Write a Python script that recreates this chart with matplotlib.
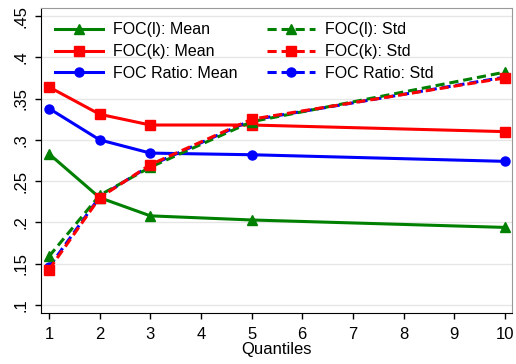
import matplotlib.pyplot as plt

plt.rcParams['font.family'] = ['Liberation Sans', 'DejaVu Sans']

quantiles = [1, 2, 3, 5, 10]
focl_mean = [0.283, 0.230, 0.208, 0.203, 0.194]
fock_mean = [0.364, 0.331, 0.318, 0.318, 0.310]
ratio_mean = [0.338, 0.300, 0.284, 0.282, 0.274]
focl_std = [0.159, 0.233, 0.267, 0.322, 0.382]
fock_std = [0.143, 0.230, 0.270, 0.325, 0.375]
ratio_std = [0.146, 0.231, 0.269, 0.324, 0.376]

yticks = [0.1, 0.15, 0.2, 0.25, 0.3, 0.35, 0.4, 0.45]
ylabels = ['.1', '.15', '.2', '.25', '.3', '.35', '.4', '.45']
xticks = [1, 2, 3, 4, 5, 6, 7, 8, 9, 10]

green, red, blue = '#008000', '#ff0000', '#0000ff'

fig = plt.figure(figsize=(5.16, 3.64), dpi=100)
ax = fig.add_axes([0.079, 0.14, 0.913, 0.838])

lw, ms = 2.2, 6.5
dash = (0, (3, 1.6))
ax.plot(quantiles, focl_mean, color=green, lw=lw, marker='^', ms=ms, label='FOC(l): Mean')
ax.plot(quantiles, fock_mean, color=red, lw=lw, marker='s', ms=ms, label='FOC(k): Mean')
ax.plot(quantiles, ratio_mean, color=blue, lw=lw, marker='o', ms=ms, label='FOC Ratio: Mean')
ax.plot(quantiles, ratio_std, color=blue, lw=lw, ls=dash, marker='o', ms=ms, label='FOC Ratio: Std')
ax.plot(quantiles, focl_std, color=green, lw=lw, ls=dash, marker='^', ms=ms, label='FOC(l): Std')
ax.plot(quantiles, fock_std, color=red, lw=lw, ls=dash, marker='s', ms=ms, label='FOC(k): Std')

ax.set_xlim(0.836, 10.14)
ax.set_ylim(0.0903, 0.4597)
ax.set_yticks(yticks)
ax.set_yticklabels(ylabels, rotation=90, va='center')
ax.set_xticks(xticks)
ax.tick_params(labelsize=12, length=4, width=1, color='black')
ax.tick_params(axis='x', pad=6)
ax.tick_params(axis='y', pad=5)
ax.yaxis.grid(True, color='#e6e6e6', lw=1)
ax.set_axisbelow(True)
ax.set_xlabel('Quantiles', fontsize=12, labelpad=0)

for s in ['top', 'right']:
    ax.spines[s].set_color('#999999')
for s in ['left', 'bottom']:
    ax.spines[s].set_color('black')

h, l = ax.get_legend_handles_labels()
order = [0, 1, 2, 4, 5, 3]
ax.legend([h[i] for i in order], [l[i] for i in order], ncol=2, loc='upper left',
          bbox_to_anchor=(0.0, 1.0), frameon=False, fontsize=11.5,
          handlelength=3.0, handletextpad=0.6, columnspacing=1.9,
          labelspacing=0.42, borderaxespad=0.5)

fig.savefig('out.png')
